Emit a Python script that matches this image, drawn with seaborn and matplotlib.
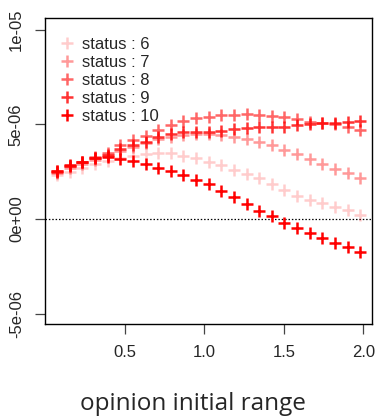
import matplotlib
matplotlib.use("Agg")
import matplotlib.pyplot as plt
import seaborn as sns
import pandas as pd
from matplotlib.lines import Line2D

# ---- data (values in units of 1e-6) ----
opinion_range = [0.073, 0.153, 0.232, 0.312, 0.391, 0.471, 0.550, 0.630, 0.709,
                 0.789, 0.868, 0.948, 1.027, 1.107, 1.186, 1.266, 1.345, 1.425,
                 1.504, 1.584, 1.663, 1.743, 1.822, 1.902, 1.981]
status_6 = [2.3, 2.5, 2.7, 2.9, 3.05, 3.2, 3.35, 3.45, 3.49, 3.49, 3.33, 3.22, 3.01,
            2.85, 2.59, 2.38, 2.17, 1.85, 1.53, 1.22, 1.0, 0.85, 0.63, 0.48, 0.21]
status_7 = [2.45, 2.7, 2.9, 3.1, 3.35, 3.6, 3.8, 4.0, 4.2, 4.35, 4.45, 4.5, 4.5,
            4.44, 4.35, 4.25, 4.07, 3.91, 3.65, 3.44, 3.17, 2.9, 2.64, 2.43, 2.17]
status_8 = [2.55, 2.8, 3.0, 3.3, 3.5, 3.9, 4.15, 4.4, 4.7, 4.97, 5.18, 5.34, 5.4,
            5.48, 5.5, 5.55, 5.5, 5.44, 5.38, 5.28, 5.15, 5.07, 5.0, 4.85, 4.7]
status_9 = [2.5, 2.8, 3.0, 3.2, 3.4, 3.7, 3.9, 4.05, 4.33, 4.5, 4.58, 4.6, 4.6,
            4.65, 4.75, 4.8, 4.85, 4.87, 4.88, 4.95, 5.03, 5.07, 5.08, 5.12, 5.18]
status_10 = [2.54, 2.85, 3.0, 3.22, 3.28, 3.17, 3.07, 2.9, 2.7, 2.54, 2.33, 2.06, 1.85,
             1.48, 1.16, 0.78, 0.42, 0.16, -0.2, -0.48, -0.74, -1.0, -1.27, -1.48, -1.74]
statuses = ["6", "7", "8", "9", "10"]
series = [status_6, status_7, status_8, status_9, status_10]
alphas = [0.2, 0.4, 0.6, 0.8, 1.0]
xticks = [0.5, 1.0, 1.5, 2.0]
xtick_labels = ["0.5", "1.0", "1.5", "2.0"]
yticks = [-5e-6, 0, 5e-6, 1e-5]
ytick_labels = ["-5e-06", "0e+00", "5e-06", "1e-05"]

rows = []
for st, vals in zip(statuses, series):
    for xv, yv in zip(opinion_range, vals):
        rows.append({"range": xv, "value": yv * 1e-6, "status": st})
df = pd.DataFrame(rows)

sns.set_style("white")
plt.rcParams["font.family"] = ["Liberation Sans", "DejaVu Sans"]

W, H = 376, 417
fig = plt.figure(figsize=(W / 100, H / 100), dpi=100)
ax = fig.add_axes([45 / W, 1 - 324 / H, (372.3 - 45) / W, (324 - 18) / H])

palette = {st: (1.0, 0.0, 0.0, a) for st, a in zip(statuses, alphas)}
for st in statuses:
    sub = df[df["status"] == st]
    sns.scatterplot(data=sub, x="range", y="value", color=palette[st], marker="+",
                    s=64, linewidth=1.8, ax=ax, legend=False, zorder=3)

ax.axhline(0, color="black", lw=0.9, ls=(0, (1.2, 1.5)), zorder=1)

ax.set_xlim(-0.003, 2.057)
ax.set_ylim(-5.55e-6, 10.62e-6)
ax.set_xticks(xticks)
ax.set_xticklabels(xtick_labels)
ax.set_yticks(yticks)
ax.set_yticklabels(ytick_labels, rotation=90, va="center")
ax.tick_params(axis="both", which="major", direction="out", length=7.2, width=0.9,
               color="#444444", labelsize=12, pad=8, left=True, bottom=True)
ax.set_xlabel("")
ax.set_ylabel("")
for sp in ax.spines.values():
    sp.set_color("black")
    sp.set_linewidth(1.0)
    sp.set_visible(True)

handles = [Line2D([], [], ls="none", marker="+", markersize=9, mew=1.8,
                  color=palette[st]) for st in statuses]
labels = [f"status : {st}" for st in statuses]
leg = ax.legend(handles, labels, loc="upper left", bbox_to_anchor=(0.0, 0.975),
                frameon=False, fontsize=12, labelspacing=0.18, handlelength=1.2,
                handletextpad=0.3, borderaxespad=0.3)

fig.text(193 / W, 1 - 410 / H, "opinion initial range", fontsize=17.5,
         family=["Open Sans", "DejaVu Sans"], ha="center", va="baseline")

fig.savefig("out.png", dpi=100)
